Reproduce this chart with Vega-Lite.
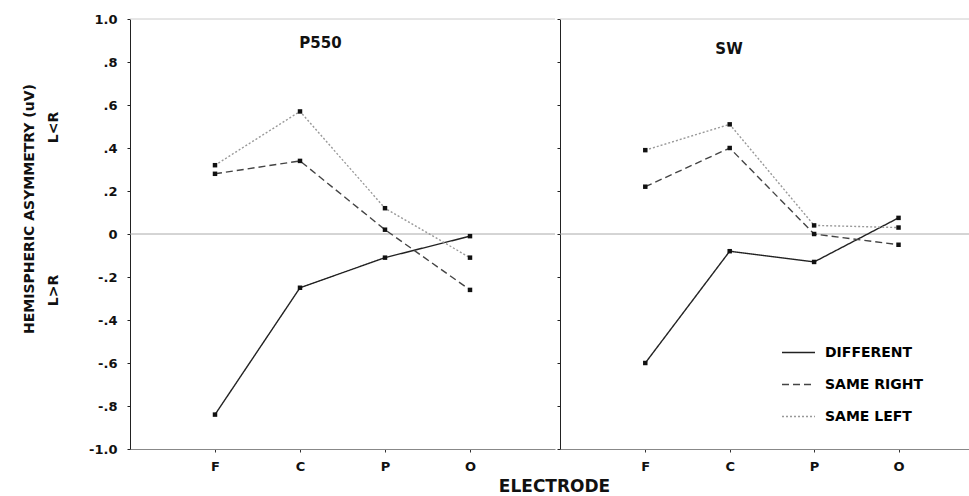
{
  "$schema": "https://vega.github.io/schema/vega-lite/v6.json",
  "background": "white",
  "padding": {"left": 22, "top": 13, "right": 0, "bottom": 0},
  "spacing": 0,
  "title": {"text": "ELECTRODE", "orient": "bottom", "anchor": "middle", "frame": "bounds", "dx": 55, "offset": 6, "font": "DejaVu Sans", "fontSize": 17, "fontWeight": "bold", "color": "#111"},
  "datasets": {
    "eeg": [
      {"panel": "P550", "electrode": "F", "condition": "DIFFERENT", "value": -0.84},
      {"panel": "P550", "electrode": "C", "condition": "DIFFERENT", "value": -0.25},
      {"panel": "P550", "electrode": "P", "condition": "DIFFERENT", "value": -0.11},
      {"panel": "P550", "electrode": "O", "condition": "DIFFERENT", "value": -0.01},
      {"panel": "P550", "electrode": "F", "condition": "SAME RIGHT", "value": 0.28},
      {"panel": "P550", "electrode": "C", "condition": "SAME RIGHT", "value": 0.34},
      {"panel": "P550", "electrode": "P", "condition": "SAME RIGHT", "value": 0.02},
      {"panel": "P550", "electrode": "O", "condition": "SAME RIGHT", "value": -0.26},
      {"panel": "P550", "electrode": "F", "condition": "SAME LEFT", "value": 0.32},
      {"panel": "P550", "electrode": "C", "condition": "SAME LEFT", "value": 0.57},
      {"panel": "P550", "electrode": "P", "condition": "SAME LEFT", "value": 0.12},
      {"panel": "P550", "electrode": "O", "condition": "SAME LEFT", "value": -0.11},
      {"panel": "SW", "electrode": "F", "condition": "DIFFERENT", "value": -0.6},
      {"panel": "SW", "electrode": "C", "condition": "DIFFERENT", "value": -0.08},
      {"panel": "SW", "electrode": "P", "condition": "DIFFERENT", "value": -0.13},
      {"panel": "SW", "electrode": "O", "condition": "DIFFERENT", "value": 0.075},
      {"panel": "SW", "electrode": "F", "condition": "SAME RIGHT", "value": 0.22},
      {"panel": "SW", "electrode": "C", "condition": "SAME RIGHT", "value": 0.4},
      {"panel": "SW", "electrode": "P", "condition": "SAME RIGHT", "value": 0.0},
      {"panel": "SW", "electrode": "O", "condition": "SAME RIGHT", "value": -0.05},
      {"panel": "SW", "electrode": "F", "condition": "SAME LEFT", "value": 0.39},
      {"panel": "SW", "electrode": "C", "condition": "SAME LEFT", "value": 0.51},
      {"panel": "SW", "electrode": "P", "condition": "SAME LEFT", "value": 0.04},
      {"panel": "SW", "electrode": "O", "condition": "SAME LEFT", "value": 0.03}
    ]
  },
  "resolve": {"legend": {"color": "independent", "strokeDash": "independent"}},
  "hconcat": [
    {
      "width": 425,
      "height": 430,
      "title": {"text": "P550", "offset": -38, "dx": -22, "font": "DejaVu Sans", "fontSize": 15, "fontWeight": "bold", "color": "#111"},
      "layer": [
        {
          "data": {"values": [{}]},
          "mark": {"type": "rule", "color": "#aaa", "strokeWidth": 1},
          "encoding": {"y": {"datum": 0, "type": "quantitative", "scale": {"domain": [-1, 1]}}}
        },
        {
          "data": {"values": [{}]},
          "mark": {"type": "rule", "color": "#ccc", "strokeWidth": 1},
          "encoding": {"y": {"datum": 1, "type": "quantitative"}}
        },
        {
          "data": {"name": "eeg"},
          "transform": [{"filter": "datum.panel == 'P550'"}],
          "mark": {"type": "line", "strokeWidth": 1.4},
          "encoding": {
            "x": {"field": "electrode", "type": "ordinal", "scale": {"type": "point", "domain": ["F", "C", "P", "O"], "padding": 1},
              "axis": {"title": null, "labelAngle": 0, "labelFont": "DejaVu Sans", "labelFontSize": 13, "labelFontWeight": "bold", "labelColor": "#111", "labelPadding": 8, "tickSize": 3, "tickColor": "#333", "domainColor": "#888"}},
            "y": {"field": "value", "type": "quantitative", "scale": {"domain": [-1, 1]},
              "axis": {"values": [-1, -0.8, -0.6, -0.4, -0.2, 0, 0.2, 0.4, 0.6, 0.8, 1],
                "labelExpr": "datum.value == 0 ? '0' : (datum.value < 0 ? '-' : '') + (abs(datum.value) > 0.99 ? '1.0' : '.' + round(abs(datum.value) * 10))",
                "title": ["HEMISPHERIC ASYMMETRY (uV)", "L>R\u00a0\u00a0\u00a0\u00a0\u00a0\u00a0\u00a0\u00a0\u00a0\u00a0\u00a0\u00a0\u00a0\u00a0\u00a0\u00a0\u00a0\u00a0\u00a0\u00a0\u00a0\u00a0\u00a0\u00a0\u00a0\u00a0\u00a0L<R"],
                "titleFont": "DejaVu Sans", "titleFontSize": 14, "titleFontWeight": "bold", "titleColor": "#111", "titleLineHeight": 24, "titlePadding": 28, "titleY": 189.5,
                "labelFont": "DejaVu Sans", "labelFontSize": 13, "labelFontWeight": "bold", "labelColor": "#111", "labelPadding": 10, "tickSize": 3, "tickColor": "#222", "domainColor": "#222", "grid": false}},
            "color": {"field": "condition", "type": "nominal", "scale": {"domain": ["DIFFERENT", "SAME RIGHT", "SAME LEFT"], "range": ["#222222", "#444444", "#999999"]}, "legend": null},
            "strokeDash": {"field": "condition", "type": "nominal", "scale": {"domain": ["DIFFERENT", "SAME RIGHT", "SAME LEFT"], "range": [[1, 0], [7, 4], [2, 2]]}, "legend": null}
          }
        },
        {
          "data": {"name": "eeg"},
          "transform": [{"filter": "datum.panel == 'P550'"}],
          "mark": {"type": "point", "shape": "square", "filled": true, "size": 20, "color": "#111", "opacity": 1},
          "encoding": {
            "x": {"field": "electrode", "type": "ordinal"},
            "y": {"field": "value", "type": "quantitative"}
          }
        }
      ]
    },
    {
      "width": 416,
      "height": 430,
      "title": {"text": "SW", "offset": -38, "dx": -39, "font": "DejaVu Sans", "fontSize": 15, "fontWeight": "bold", "color": "#111"},
      "layer": [
        {
          "data": {"values": [{}]},
          "mark": {"type": "rule", "color": "#aaa", "strokeWidth": 1},
          "encoding": {"y": {"datum": 0, "type": "quantitative", "scale": {"domain": [-1, 1]}}}
        },
        {
          "data": {"values": [{}]},
          "mark": {"type": "rule", "color": "#ccc", "strokeWidth": 1},
          "encoding": {"y": {"datum": 1, "type": "quantitative"}}
        },
        {
          "data": {"name": "eeg"},
          "transform": [{"filter": "datum.panel == 'SW'"}],
          "mark": {"type": "line", "strokeWidth": 1.4},
          "encoding": {
            "x": {"field": "electrode", "type": "ordinal", "scale": {"type": "point", "domain": ["F", "C", "P", "O"], "padding": 0.964, "align": 0.524},
              "axis": {"title": null, "labelAngle": 0, "labelFont": "DejaVu Sans", "labelFontSize": 13, "labelFontWeight": "bold", "labelColor": "#111", "labelPadding": 8, "tickSize": 3, "tickColor": "#333", "domainColor": "#888"}},
            "y": {"field": "value", "type": "quantitative", "scale": {"domain": [-1, 1]},
              "axis": {"values": [-1, -0.8, -0.6, -0.4, -0.2, 0, 0.2, 0.4, 0.6, 0.8, 1], "labels": false, "title": null, "tickSize": 3, "tickColor": "#222", "domainColor": "#222", "grid": false}},
            "color": {"field": "condition", "type": "nominal", "scale": {"domain": ["DIFFERENT", "SAME RIGHT", "SAME LEFT"], "range": ["#222222", "#444444", "#999999"]},
              "legend": {"orient": "none", "legendX": 221, "legendY": 316, "title": null, "symbolType": "stroke", "symbolSize": 1089, "symbolStrokeWidth": 1.5, "labelFont": "DejaVu Sans", "labelFontSize": 14, "labelFontWeight": "bold", "labelColor": "#000", "labelOffset": 9, "rowPadding": 7}},
            "strokeDash": {"field": "condition", "type": "nominal", "scale": {"domain": ["DIFFERENT", "SAME RIGHT", "SAME LEFT"], "range": [[1, 0], [7, 4], [2, 2]]},
              "legend": {"orient": "none", "legendX": 221, "legendY": 316, "title": null, "symbolType": "stroke", "symbolSize": 1089, "symbolStrokeWidth": 1.5, "labelFont": "DejaVu Sans", "labelFontSize": 14, "labelFontWeight": "bold", "labelColor": "#000", "labelOffset": 9, "rowPadding": 7}}
          }
        },
        {
          "data": {"name": "eeg"},
          "transform": [{"filter": "datum.panel == 'SW'"}],
          "mark": {"type": "point", "shape": "square", "filled": true, "size": 20, "color": "#111", "opacity": 1},
          "encoding": {
            "x": {"field": "electrode", "type": "ordinal"},
            "y": {"field": "value", "type": "quantitative"}
          }
        }
      ]
    }
  ],
  "config": {
    "view": {"stroke": null},
    "font": "DejaVu Sans",
    "axis": {"grid": false}
  }
}
